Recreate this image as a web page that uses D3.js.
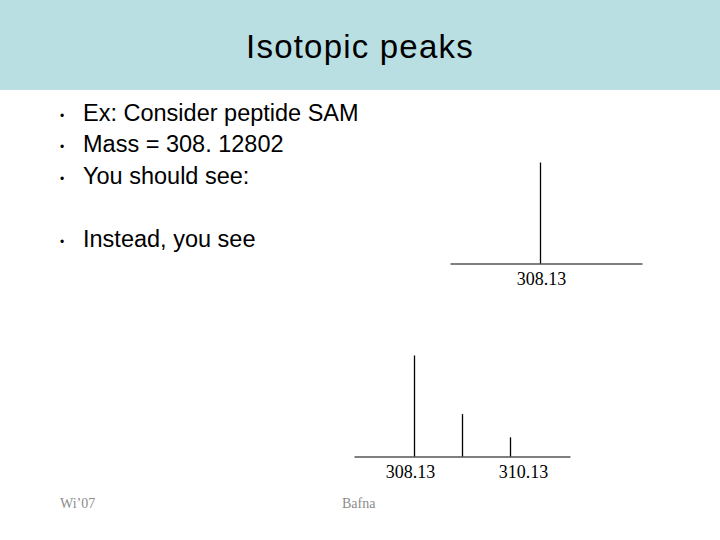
<!DOCTYPE html>
<html>
<head>
<meta charset="utf-8">
<script src="https://cdn.jsdelivr.net/npm/d3@7"></script>
<style>
  html, body { margin: 0; padding: 0; background: #fff; }
  svg { display: block; }
</style>
</head>
<body>
<svg id="chart" width="720" height="540"></svg>
<script>
// ---- data ----
const title = "Isotopic peaks";
const bullets = ["Ex: Consider peptide SAM", "Mass = 308. 12802", "You should see:", "Instead, you see"];
const expectedMasses = [308.13];
const expectedIntensity = [100];
const expectedTickLabels = ["308.13"];
const observedMasses = [308.13, 309.13, 310.13];
const observedIntensity = [100, 42, 19];
const observedTickValues = [308.13, 310.13];
const observedTickLabels = ["308.13", "310.13"];
const footerLeft = "Wi\u201907";
const footerRight = "Bafna";

// ---- layout ----
const svg = d3.select("#chart");
const W = 720, H = 540;
svg.append("rect").attr("x", 0).attr("y", 0).attr("width", W).attr("height", 90).attr("fill", "#badfe3");
svg.append("text").attr("x", 360).attr("y", 58).attr("text-anchor", "middle")
  .attr("font-family", "Liberation Sans, Arial, sans-serif").attr("font-size", 33)
  .attr("letter-spacing", 1.2).attr("fill", "#000").text(title);

const bulletY = [121, 152, 184, 247];
bullets.forEach((b, i) => {
  svg.append("text").attr("x", 62).attr("y", bulletY[i] - 1).attr("text-anchor", "middle")
    .attr("font-family", "Liberation Sans, Arial, sans-serif").attr("font-size", 12).attr("fill", "#000").text("\u2022");
  svg.append("text").attr("x", 83).attr("y", bulletY[i])
    .attr("font-family", "Liberation Sans, Arial, sans-serif").attr("font-size", 23.5).attr("fill", "#000").text(b);
});

function spectrum(masses, intens, tickVals, tickLabels, domain, range, baseY, labelDx) {
  const x = d3.scaleLinear().domain(domain).range(range);
  const y = d3.scaleLinear().domain([0, 100]).range([baseY, baseY - 101]);
  const g = svg.append("g");
  const axis = d3.axisBottom(x).tickValues(tickVals).tickSize(0).tickPadding(7)
    .tickFormat((d, i) => tickLabels[i]);
  const ag = g.append("g").attr("transform", `translate(0,${baseY})`).call(axis);
  ag.select(".domain").attr("stroke", "#000").attr("stroke-width", 1.2);
  ag.selectAll("text").attr("font-family", "Liberation Serif, Times New Roman, serif")
    .attr("font-size", 18).attr("fill", "#000").attr("dy", "0.8em")
    .attr("dx", (d, i) => labelDx[i]);
  g.selectAll("line.peak").data(masses).enter().append("line").attr("class", "peak")
    .attr("x1", d => Math.round(x(d)) + 0.5).attr("x2", d => Math.round(x(d)) + 0.5)
    .attr("y1", baseY).attr("y2", (d, i) => y(intens[i]))
    .attr("stroke", "#000").attr("stroke-width", 1.3);
}

spectrum(expectedMasses, expectedIntensity, expectedMasses, expectedTickLabels,
  [306.255, 310.255], [450, 642], 263.5, [1]);
spectrum(observedMasses, observedIntensity, observedTickValues, observedTickLabels,
  [306.88, 311.38], [354, 570], 456.5, [-4, 13]);

svg.append("text").attr("x", 60).attr("y", 508).attr("font-family", "Liberation Serif, Times New Roman, serif")
  .attr("font-size", 14).attr("fill", "#8c8c8c").text(footerLeft);
svg.append("text").attr("x", 342).attr("y", 508).attr("font-family", "Liberation Serif, Times New Roman, serif")
  .attr("font-size", 14).attr("fill", "#8c8c8c").text(footerRight);
</script>
</body>
</html>
